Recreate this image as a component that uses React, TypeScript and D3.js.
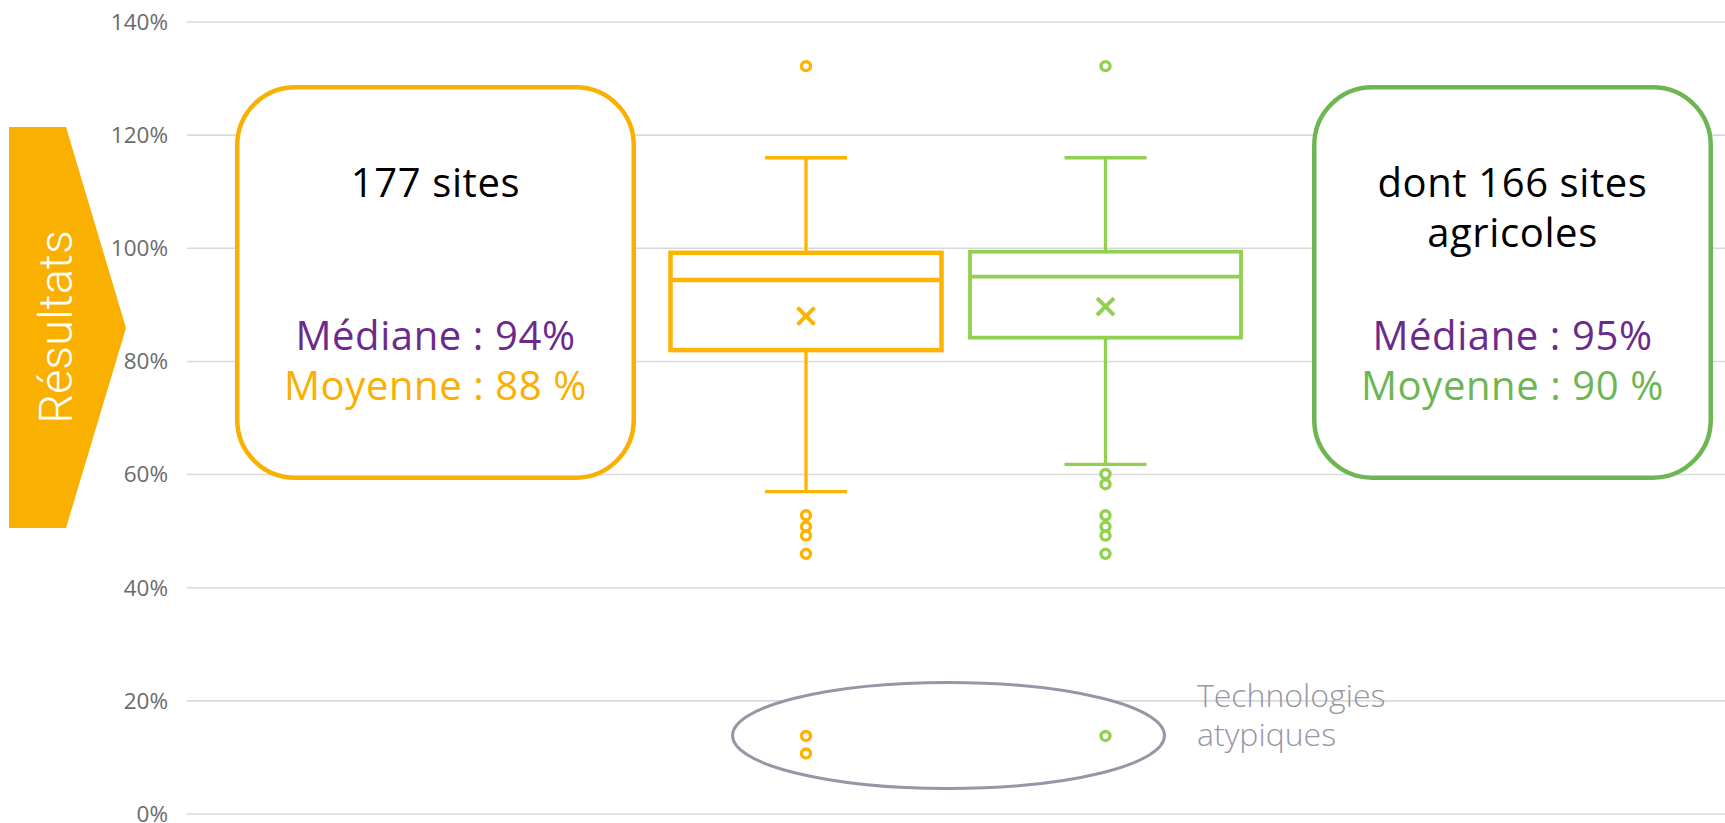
import React from "react";
import * as d3 from "d3";

const categories = ["Tous les sites", "Sites agricoles"];
const whiskerLow = [57.0, 61.8];
const q1 = [82.0, 84.2];
const median = [94.4, 95.0];
const q3 = [99.2, 99.4];
const whiskerHigh = [116.0, 116.0];
const mean = [88.0, 89.7];
const outliers = [
  [132.2, 52.8, 50.8, 49.2, 46.0, 13.8, 10.7],
  [132.2, 60.1, 58.3, 52.8, 50.8, 49.2, 46.0, 13.8],
];
const yTicks = [0, 20, 40, 60, 80, 100, 120, 140];
const boxColors = ["#FDB300", "#92D050"];

const leftTitle = ["177 sites"];
const rightTitle = ["dont 166 sites", "agricoles"];
const leftStats = ["Médiane : 94%", "Moyenne : 88 %"];
const rightStats = ["Médiane : 95%", "Moyenne : 90 %"];
const bannerLabel = "Résultats";
const noteLines = ["Technologies", "atypiques"];

const W = 1725;
const H = 823;
const ORANGE = "#F9B000";
const GREEN = "#6DB653";
const PURPLE = "#6C2A8C";
const GRAY = "#9896A6";
const FONT = "'Open Sans', sans-serif";
const BOXFONT = 40;
const BOXLS = 0.6;

export default function App() {
  const y = d3.scaleLinear().domain([0, 140]).range([814, 22]);
  const x = d3.scalePoint<string>().domain(categories).range([806, 1105.5]);
  const boxW = 271;
  const capW = 82;

  const gridX0 = 187;

  const boxText = (s: string, cx: number, cy: number, fill: string) => (
    <text
      key={s + cy}
      x={cx}
      y={cy}
      textAnchor="middle"
      fontFamily={FONT}
      fontSize={BOXFONT}
      letterSpacing={BOXLS}
      fill={fill}
    >
      {s}
    </text>
  );

  return (
    <svg
      width={W}
      height={H}
      style={{ position: "absolute", left: 0, top: 0, background: "#fff" }}
    >
      {/* grid + ticks */}
      {yTicks.map((t) => (
        <g key={t}>
          <line
            x1={gridX0}
            x2={W}
            y1={y(t)}
            y2={y(t)}
            stroke="#D9D9D9"
            strokeWidth={1.6}
          />
          <text
            x={168}
            y={y(t)}
            dy="0.35em"
            textAnchor="end"
            fontFamily={FONT}
            fontSize={22.5}
            fill="#6B6B6B"
          >
            {t + "%"}
          </text>
        </g>
      ))}

      {/* banner */}
      <polygon points="9,127 66,127 126,328 66,528 9,528" fill={ORANGE} />
      <text
        transform="translate(72,327) rotate(-90)"
        textAnchor="middle"
        fontFamily="Roboto, sans-serif"
        fontWeight={300}
        fontSize={47}
        fill="#fff"
      >
        {bannerLabel}
      </text>

      {/* left box */}
      <rect
        x={237.25}
        y={87.25}
        width={396.5}
        height={390.5}
        rx={58}
        fill="#fff"
        stroke={ORANGE}
        strokeWidth={4.5}
      />
      {leftTitle.map((s, i) => boxText(s, 435.5, 197 + i * 50, "#000"))}
      {boxText(leftStats[0], 435.5, 350, PURPLE)}
      {boxText(leftStats[1], 435.5, 400, ORANGE)}

      {/* right box */}
      <rect
        x={1314.25}
        y={87.25}
        width={396.5}
        height={390.5}
        rx={58}
        fill="#fff"
        stroke={GREEN}
        strokeWidth={4.5}
      />
      {rightTitle.map((s, i) => boxText(s, 1512.5, 197 + i * 50, "#000"))}
      {boxText(rightStats[0], 1512.5, 350, PURPLE)}
      {boxText(rightStats[1], 1512.5, 400, GREEN)}

      {/* ellipse */}
      <ellipse
        cx={948.5}
        cy={735.5}
        rx={216}
        ry={53}
        fill="#fff"
        stroke={GRAY}
        strokeWidth={3}
      />
      {noteLines.map((s, i) => (
        <text
          key={s}
          x={1197}
          y={707 + i * 39}
          fontFamily={FONT}
          fontWeight={300}
          fontSize={32}
          fill={GRAY}
        >
          {s}
        </text>
      ))}

      {/* box plots */}
      {categories.map((c, i) => {
        const cx = x(c) as number;
        const col = boxColors[i];
        const sw = i === 0 ? 4.5 : 3.8;
        const m = 8.5;
        return (
          <g key={c}>
            <line x1={cx} x2={cx} y1={y(whiskerHigh[i])} y2={y(q3[i])} stroke={col} strokeWidth={3.3} />
            <line x1={cx} x2={cx} y1={y(q1[i])} y2={y(whiskerLow[i])} stroke={col} strokeWidth={3.3} />
            <line x1={cx - capW / 2} x2={cx + capW / 2} y1={y(whiskerHigh[i])} y2={y(whiskerHigh[i])} stroke={col} strokeWidth={3.3} />
            <line x1={cx - capW / 2} x2={cx + capW / 2} y1={y(whiskerLow[i])} y2={y(whiskerLow[i])} stroke={col} strokeWidth={3.3} />
            <rect
              x={cx - boxW / 2}
              y={y(q3[i])}
              width={boxW}
              height={y(q1[i]) - y(q3[i])}
              fill="#fff"
              stroke={col}
              strokeWidth={sw}
            />
            <line x1={cx - boxW / 2} x2={cx + boxW / 2} y1={y(median[i])} y2={y(median[i])} stroke={col} strokeWidth={sw} />
            <path
              d={`M${cx - m},${y(mean[i]) - m}L${cx + m},${y(mean[i]) + m}M${cx - m},${y(mean[i]) + m}L${cx + m},${y(mean[i]) - m}`}
              stroke={col}
              strokeWidth={4}
              fill="none"
            />
            {outliers[i].map((v, k) => (
              <circle key={k} cx={cx} cy={y(v)} r={4.5} fill="#fff" stroke={col} strokeWidth={3.4} />
            ))}
          </g>
        );
      })}
    </svg>
  );
}
